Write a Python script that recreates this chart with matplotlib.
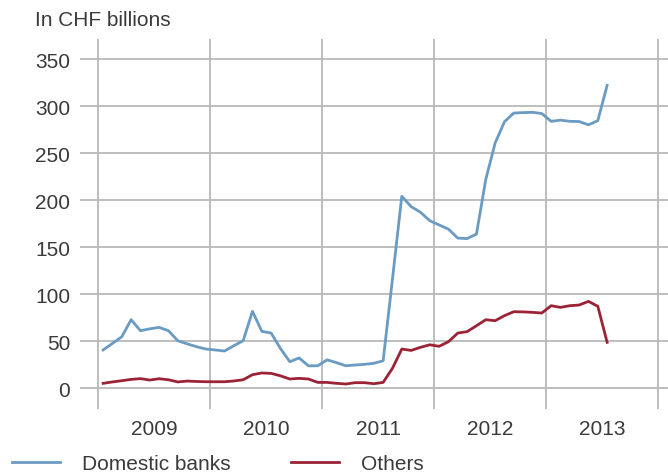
import numpy as np
import matplotlib.pyplot as plt
from matplotlib.ticker import FixedLocator

plt.rcParams['font.family'] = ['Liberation Sans', 'DejaVu Sans']

years = [2009, 2010, 2011, 2012, 2013]

# monthly values, Jan 2009 - Jul 2013 (CHF billions)
domestic_banks = [
    40.5, 47.5, 54.6, 72.7, 61, 63, 64.5, 61, 50.3, 47, 44, 41.5,       # 2009
    40.5, 39.4, 45, 50.3, 81.6, 60.3, 58.5, 42, 28, 32, 23.6, 23.7,     # 2010
    30, 27, 23.7, 24.5, 25.2, 26.3, 29, 116, 204, 193, 187, 178,        # 2011
    173.5, 169, 159.5, 159, 163.8, 222, 260.6, 283.3, 292.5, 293, 293.3, 292,  # 2012
    283.7, 285, 283.7, 283.5, 280, 284.4, 322,                           # 2013
]
others = [
    5, 6.5, 7.8, 9.2, 10, 8.5, 9.9, 8.8, 6.5, 7.4, 7, 6.7,
    6.7, 6.7, 7.5, 8.8, 14.2, 16, 15.6, 13, 9.6, 10.3, 9.6, 6,
    6, 5, 4.3, 5.7, 5.7, 4.6, 6, 21, 41.5, 40, 43.3, 46,
    44.4, 49.3, 58.5, 60, 66.3, 72.7, 71.6, 77, 81.2, 81, 80.5, 79.8,
    87.6, 85.8, 87.6, 88.3, 92.2, 87, 48.6,
]

months = np.arange(len(domestic_banks))
x = 2009 + (months + 0.55) / 12

text_col = '#3a3a3a'
grid_col = '#b9b9b9'
fs = 15

fig = plt.figure(figsize=(6.68, 4.77), dpi=100)
ax = fig.add_axes([80 / 668, 67 / 477, 588 / 668, 370 / 477])

ax.plot(x, domestic_banks, color='#6a9bc3', lw=2.0, label='Domestic banks', solid_joinstyle='round')
ax.plot(x, others, color='#9b2335', lw=2.0, label='Others', solid_joinstyle='round')

ax.set_xlim(2009 - 18 / 112, 2014 + 10 / 112)
ax.set_ylim(-22.3, 371.3)

ax.set_yticks(np.arange(0, 351, 50))
ax.xaxis.set_major_locator(FixedLocator([y + 0.5 for y in years]))
ax.set_xticklabels([str(y) for y in years])
ax.xaxis.set_minor_locator(FixedLocator(years + [2014]))

ax.grid(axis='y', which='major', color=grid_col, lw=1.3)
ax.grid(axis='x', which='minor', color=grid_col, lw=1.3)
ax.set_axisbelow(True)

for s in ax.spines.values():
    s.set_visible(False)

ax.tick_params(axis='both', which='both', length=0, labelsize=fs, colors=text_col)
ax.tick_params(axis='y', pad=7)
ax.tick_params(axis='x', pad=7)

fig.text(35 / 668, 1 - 20 / 477, 'In CHF billions', fontsize=fs, color=text_col, va='center', ha='left')

fig.legend(loc='center left', bbox_to_anchor=(12 / 668, 1 - 465 / 477), ncol=2, frameon=False,
           fontsize=fs, handlelength=2.3, handletextpad=1.05, columnspacing=2.9,
           borderpad=0, borderaxespad=0, labelcolor=text_col)

fig.savefig('out.png', dpi=100)
